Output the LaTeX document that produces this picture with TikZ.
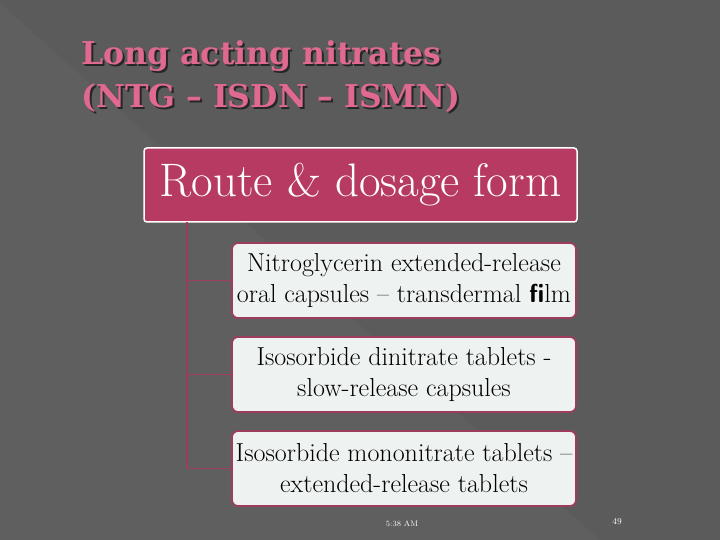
\documentclass[tikz,border=0pt]{standalone}
\usepackage{fontspec}
\newfontfamily\titlefont[Ligatures=TeX]{DejaVu Serif}
\definecolor{slidebg}{HTML}{5B5B5B}
\definecolor{slideband}{HTML}{5F5F5F}
\definecolor{rosepink}{HTML}{E0698F}
\definecolor{headfill}{HTML}{B73A62}
\definecolor{itemfill}{HTML}{EEF2F0}
\definecolor{itemline}{HTML}{9E3D5B}
\tikzset{
  headbox/.style={draw=white, line width=1.5pt, fill=headfill, rounded corners=3pt,
    minimum width=433pt, minimum height=74pt, text=white, inner sep=0pt},
  itembox/.style={draw=itemline, line width=1.8pt, fill=itemfill, rounded corners=6pt,
    minimum width=344pt, minimum height=75pt, align=center, inner sep=0pt},
  tree/.style={draw=itemline, line width=1.2pt},
  titletext/.style={anchor=north west, font=\titlefont\bfseries\fontsize{31.5}{43}\selectfont, align=left},
}
\begin{document}
\begin{tikzpicture}[x=1pt,y=-1pt]

	\useasboundingbox (0,0) rectangle (720,540);
	\fill[slidebg] (0,0) rectangle (720,540);
	\fill[slideband] (0,3) -- (600,540) -- (0,540) -- cycle;

	% title with its shadow
	\node[titletext, text=black!85] at (80,39)
		{Long acting nitrates\\(NTG -- ISDN -- ISMN)};
	\node (title) [titletext, text=rosepink] at (78,37)
		{Long acting nitrates\\(NTG -- ISDN -- ISMN)};

	\node (head) [headbox, font=\fontsize{47}{50}\selectfont] at (360.5,185) {Route \& dosage form};

	\node (ntg) [itembox, font=\fontsize{26}{31}\selectfont] at (404,280.5)
		{Nitroglycerin extended-release\\oral capsules -- transdermal {\sffamily\bfseries fi}lm};
	\node (isdn) [itembox, font=\fontsize{26}{31}\selectfont] at (404,374.5)
		{Isosorbide dinitrate tablets -\\slow-release capsules};
	\node (ismn) [itembox, font=\fontsize{26}{31}\selectfont] at (404,468.5)
		{Isosorbide mononitrate tablets --\\extended-release tablets};

	\coordinate (root) at (187,222);
	\draw[tree] (root) |- (ntg.west);
	\draw[tree] (root) |- (isdn.west);
	\draw[tree] (root) |- (ismn.west);

	\node (clock) [text=white, font=\fontsize{8}{9}\selectfont] at (402,524) {5:38 AM};
	\node (page) [text=white, font=\fontsize{9}{10}\selectfont] at (617,522) {49};

    \end{tikzpicture}
\end{document}
